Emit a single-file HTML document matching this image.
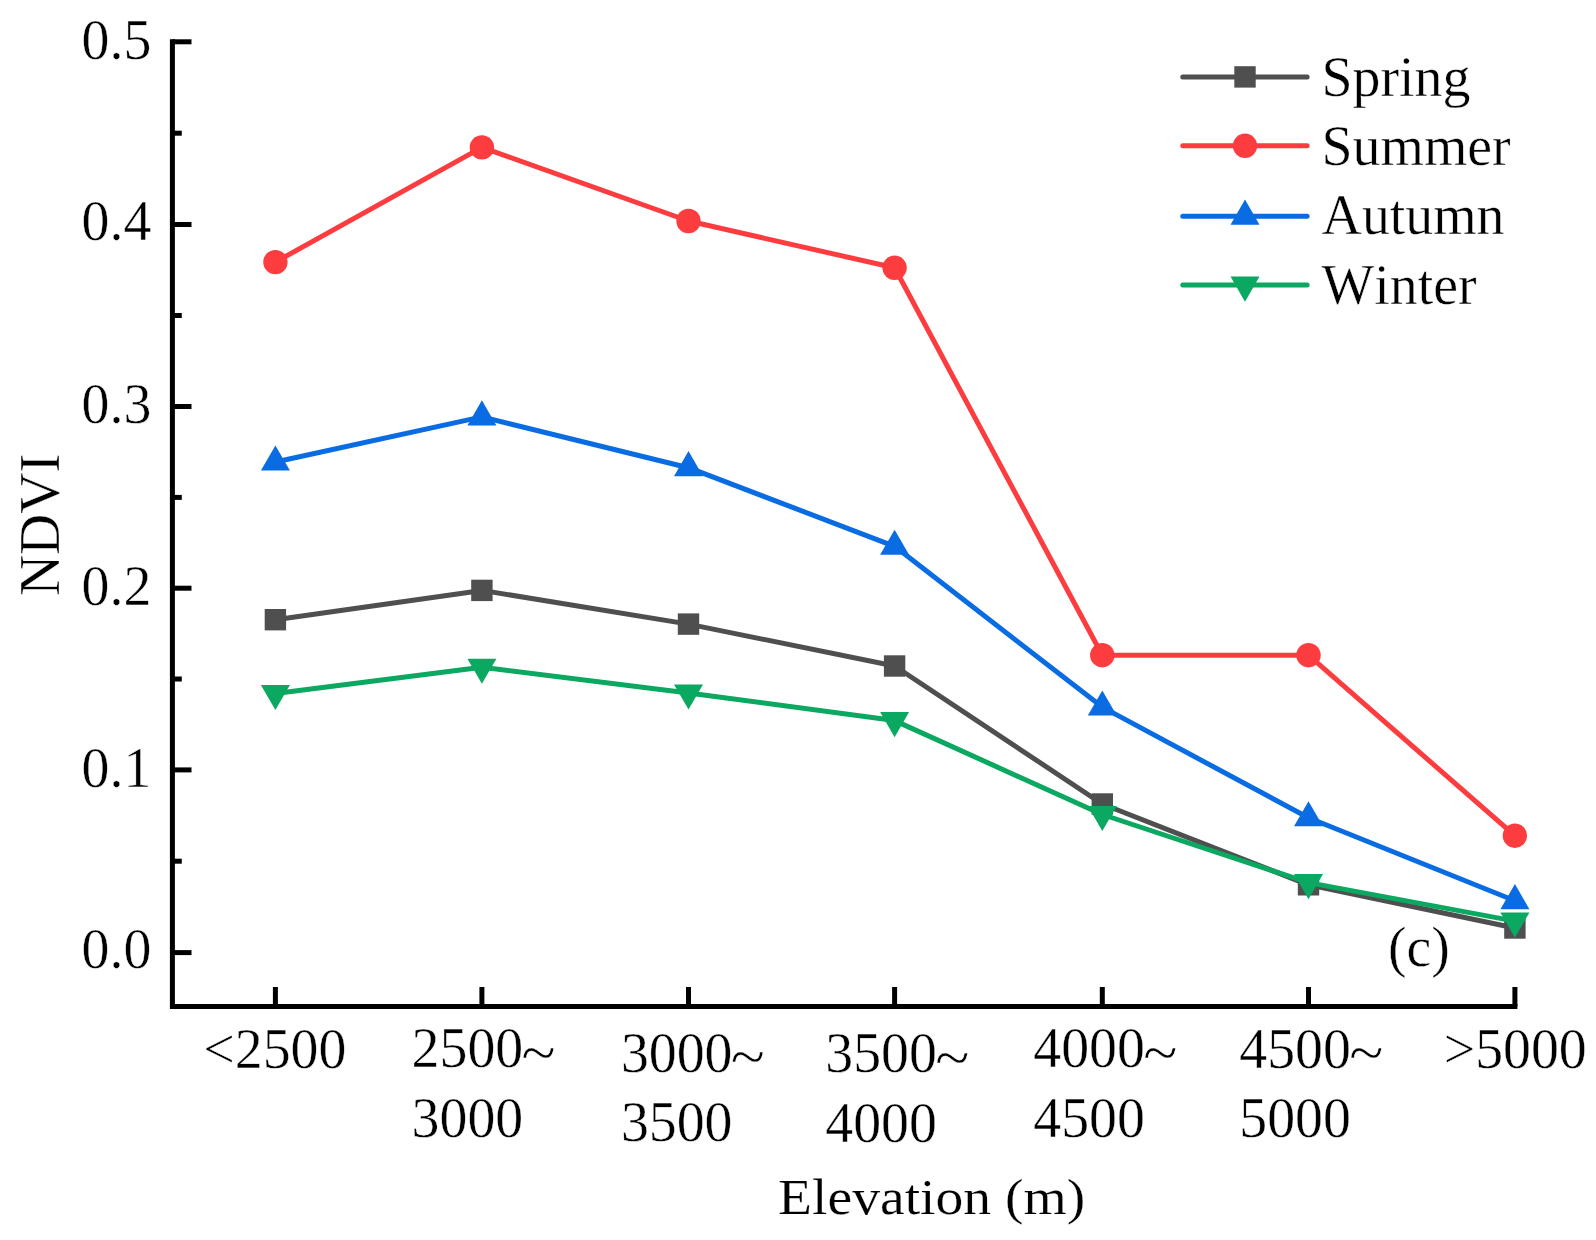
<!DOCTYPE html>
<html><head><meta charset="utf-8"><title>NDVI vs Elevation (c)</title>
<style>
html,body{margin:0;padding:0;background:#fff;}
body{width:1596px;height:1240px;overflow:hidden;}
svg{display:block;}
text{font-family:"Liberation Serif","Times New Roman",serif;font-size:55.8px;fill:#000;font-kerning:none;stroke:#fff;stroke-width:0.4px;}
</style></head><body>
<svg width="1596" height="1240" viewBox="0 0 1596 1240">
<rect width="1596" height="1240" fill="#fff"/>

<g>
<polyline points="275.4,619.7 481.9,590.4 688.5,624.1 894.6,666.0 1102.3,804.0 1308.5,884.8 1514.9,928.0" fill="none" stroke="#4f4f4f" stroke-width="5" stroke-linejoin="round"/>
<rect x="264.7" y="609.0" width="21.4" height="21.4" fill="#4f4f4f"/>
<rect x="471.2" y="579.7" width="21.4" height="21.4" fill="#4f4f4f"/>
<rect x="677.8" y="613.4" width="21.4" height="21.4" fill="#4f4f4f"/>
<rect x="883.9" y="655.3" width="21.4" height="21.4" fill="#4f4f4f"/>
<rect x="1091.6" y="793.3" width="21.4" height="21.4" fill="#4f4f4f"/>
<rect x="1297.8" y="874.1" width="21.4" height="21.4" fill="#4f4f4f"/>
<rect x="1504.2" y="917.3" width="21.4" height="21.4" fill="#4f4f4f"/>
</g>
<g>
<polyline points="275.4,262.1 481.9,147.4 688.5,221.0 894.6,267.8 1102.3,655.2 1308.5,655.2 1514.9,835.7" fill="none" stroke="#fc3c3f" stroke-width="5" stroke-linejoin="round"/>
<circle cx="275.4" cy="262.1" r="12.2" fill="#fc3c3f"/>
<circle cx="481.9" cy="147.4" r="12.2" fill="#fc3c3f"/>
<circle cx="688.5" cy="221.0" r="12.2" fill="#fc3c3f"/>
<circle cx="894.6" cy="267.8" r="12.2" fill="#fc3c3f"/>
<circle cx="1102.3" cy="655.2" r="12.2" fill="#fc3c3f"/>
<circle cx="1308.5" cy="655.2" r="12.2" fill="#fc3c3f"/>
<circle cx="1514.9" cy="835.7" r="12.2" fill="#fc3c3f"/>
</g>
<g>
<polyline points="275.4,462.0 481.9,416.9 688.5,467.7 894.6,546.3 1102.3,707.1 1308.5,817.8 1514.9,900.7" fill="none" stroke="#0a6ce2" stroke-width="5" stroke-linejoin="round"/>
<polygon points="275.4,445.4 289.9,470.5 260.9,470.5" fill="#0a6ce2"/>
<polygon points="481.9,400.3 496.4,425.4 467.4,425.4" fill="#0a6ce2"/>
<polygon points="688.5,451.1 703.0,476.2 674.0,476.2" fill="#0a6ce2"/>
<polygon points="894.6,529.7 909.1,554.8 880.1,554.8" fill="#0a6ce2"/>
<polygon points="1102.3,690.5 1116.8,715.6 1087.8,715.6" fill="#0a6ce2"/>
<polygon points="1308.5,801.2 1323.0,826.3 1294.0,826.3" fill="#0a6ce2"/>
<polygon points="1514.9,884.1 1529.4,909.2 1500.4,909.2" fill="#0a6ce2"/>
</g>
<g>
<polyline points="275.4,693.5 481.9,667.2 688.5,692.9 894.6,720.6 1102.3,814.5 1308.5,882.6 1514.9,921.1" fill="none" stroke="#0aa860" stroke-width="5" stroke-linejoin="round"/>
<polygon points="260.9,685.0 289.9,685.0 275.4,710.1" fill="#0aa860"/>
<polygon points="467.4,658.7 496.4,658.7 481.9,683.8" fill="#0aa860"/>
<polygon points="674.0,684.4 703.0,684.4 688.5,709.5" fill="#0aa860"/>
<polygon points="880.1,712.1 909.1,712.1 894.6,737.2" fill="#0aa860"/>
<polygon points="1087.8,806.0 1116.8,806.0 1102.3,831.1" fill="#0aa860"/>
<polygon points="1294.0,874.1 1323.0,874.1 1308.5,899.2" fill="#0aa860"/>
<polygon points="1500.4,912.6 1529.4,912.6 1514.9,937.7" fill="#0aa860"/>
</g>
<g stroke="#000" stroke-width="5.0" fill="none" stroke-linecap="butt">
<path d="M172.4,39.3 V1006.45 H1517.4"/>
<path d="M172.4,952.6 H191.5"/>
<path d="M172.4,769.9 H191.5"/>
<path d="M172.4,588.2 H191.5"/>
<path d="M172.4,406.5 H191.5"/>
<path d="M172.4,224.5 H191.5"/>
<path d="M172.4,41.8 H191.5"/>
<path d="M172.4,861.2 H181.8"/>
<path d="M172.4,679.0 H181.8"/>
<path d="M172.4,497.4 H181.8"/>
<path d="M172.4,315.5 H181.8"/>
<path d="M172.4,133.2 H181.8"/>
<path d="M275.4,1006.45 V987"/>
<path d="M481.9,1006.45 V987"/>
<path d="M688.5,1006.45 V987"/>
<path d="M894.6,1006.45 V987"/>
<path d="M1102.3,1006.45 V987"/>
<path d="M1308.5,1006.45 V987"/>
<path d="M1514.9,1006.45 V987"/>
</g>
<text transform="translate(151.3,968.2) scale(1,1.04)" text-anchor="end">0.0</text>
<text transform="translate(151.3,786.6) scale(1,1.04)" text-anchor="end">0.1</text>
<text transform="translate(151.3,604.9) scale(1,1.04)" text-anchor="end">0.2</text>
<text transform="translate(151.3,422.9) scale(1,1.04)" text-anchor="end">0.3</text>
<text transform="translate(151.3,240.2) scale(1,1.04)" text-anchor="end">0.4</text>
<text transform="translate(151.3,59.0) scale(1,1.04)" text-anchor="end">0.5</text>
<text transform="translate(203.3,1067.5) scale(1,1.04)">&lt;2500</text>
<text transform="translate(411.6,1067.2) scale(1,1.04)">2500<tspan dx="-1.6" dy="4.6" textLength="34.1" lengthAdjust="spacingAndGlyphs">~</tspan></text>
<text transform="translate(411.6,1136.6) scale(1,1.04)">3000</text>
<text transform="translate(620.9,1071.5) scale(1,1.04)">3000<tspan dx="-1.6" dy="4.6" textLength="34.1" lengthAdjust="spacingAndGlyphs">~</tspan></text>
<text transform="translate(620.9,1140.9) scale(1,1.04)">3500</text>
<text transform="translate(825.3,1072.2) scale(1,1.04)">3500<tspan dx="-1.6" dy="4.6" textLength="34.1" lengthAdjust="spacingAndGlyphs">~</tspan></text>
<text transform="translate(825.3,1141.6) scale(1,1.04)">4000</text>
<text transform="translate(1033.3,1067.2) scale(1,1.04)">4000<tspan dx="-1.6" dy="4.6" textLength="34.1" lengthAdjust="spacingAndGlyphs">~</tspan></text>
<text transform="translate(1033.3,1136.6) scale(1,1.04)">4500</text>
<text transform="translate(1239.3,1067.5) scale(1,1.04)">4500<tspan dx="-1.6" dy="4.6" textLength="34.1" lengthAdjust="spacingAndGlyphs">~</tspan></text>
<text transform="translate(1239.3,1136.9) scale(1,1.04)">5000</text>
<text transform="translate(1443.7,1067.5) scale(1,1.04)">&gt;5000</text>
<text transform="translate(59.2,524.8) rotate(-90) scale(1.023,1.02)" text-anchor="middle">NDVI</text>
<text transform="translate(931.7,1213.9) scale(1.112,1)" text-anchor="middle" style="font-size:50px;stroke-width:0.2px">Elevation (m)</text>
<text transform="translate(1388,966.3) scale(1,1.03)">(c)</text>
<path d="M1182.8,76.9 H1307.1" stroke="#4f4f4f" stroke-width="5" stroke-linecap="round" fill="none"/>
<rect x="1234.3" y="66.2" width="21.4" height="21.4" fill="#4f4f4f"/>
<text transform="translate(1321.6,96.4) scale(1,1.03)">Spring</text>
<path d="M1182.8,145.8 H1307.1" stroke="#fc3c3f" stroke-width="5" stroke-linecap="round" fill="none"/>
<circle cx="1245.0" cy="145.8" r="12.2" fill="#fc3c3f"/>
<text transform="translate(1321.6,165.3) scale(1,1.03)">Summer</text>
<path d="M1182.8,216.2 H1307.1" stroke="#0a6ce2" stroke-width="5" stroke-linecap="round" fill="none"/>
<polygon points="1245.0,199.6 1259.5,224.7 1230.5,224.7" fill="#0a6ce2"/>
<text transform="translate(1321.6,233.5) scale(1,1.03)">Autumn</text>
<path d="M1182.8,285.1 H1307.1" stroke="#0aa860" stroke-width="5" stroke-linecap="round" fill="none"/>
<polygon points="1230.5,276.6 1259.5,276.6 1245.0,301.7" fill="#0aa860"/>
<text transform="translate(1321.6,303.9) scale(1,1.03)">Winter</text>
</svg></body></html>
